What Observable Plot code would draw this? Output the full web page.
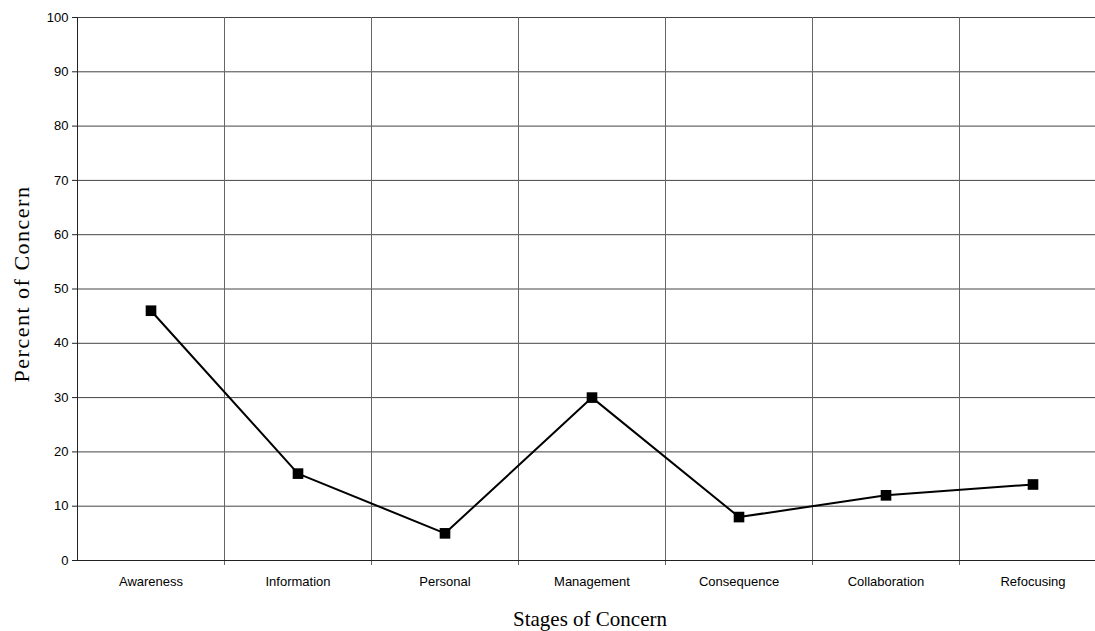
<!DOCTYPE html>
<html>
<head>
<meta charset="utf-8">
<script src="https://cdn.jsdelivr.net/npm/d3@7"></script>
<script src="https://cdn.jsdelivr.net/npm/@observablehq/plot@0.6"></script>
<style>
  html, body { margin: 0; padding: 0; background: #fff; overflow: hidden; }
  #chart { position: relative; width: 1095px; height: 631px; }
  #chart svg { display: block; overflow: hidden; }
  .ytitle { position: absolute; left: 22px; top: 284px; transform: translate(-50%, -50%) rotate(-90deg);
    font-family: "Liberation Serif", "Times New Roman", serif; font-size: 22px; letter-spacing: 1.5px; white-space: nowrap; color: #000; }
  .xtitle { position: absolute; left: 590px; top: 619px; transform: translate(-50%, -50%);
    font-family: "Liberation Serif", "Times New Roman", serif; font-size: 21px; white-space: nowrap; color: #000; }
</style>
</head>
<body>
<div id="chart">
  <div class="ytitle">Percent of Concern</div>
  <div class="xtitle">Stages of Concern</div>
</div>
<script>
const categories = ["Awareness", "Information", "Personal", "Management", "Consequence", "Collaboration", "Refocusing"];
const percent = [46, 16, 5, 30, 8, 12, 14];
const yTicks = [0, 10, 20, 30, 40, 50, 60, 70, 80, 90, 100];

const data = categories.map((c, i) => ({i, c, v: percent[i]}));
const idx = categories.map((c, i) => i);
const boundaries = categories.slice(1).map((c, i) => i + 0.5);

const chart = Plot.plot({
  width: 1095,
  height: 631,
  marginLeft: 77,
  marginRight: 0,
  marginTop: 17,
  marginBottom: 71,
  style: {fontFamily: "'Liberation Sans', Arial, sans-serif", fontSize: "13px", color: "#000", background: "#fff"},
  x: {domain: [-0.5, categories.length - 0.5], range: [77, 1106], axis: null},
  y: {domain: [0, 100], axis: null},
  marks: [
    Plot.ruleY(yTicks.slice(1), {y: d => d, stroke: "#444", strokeWidth: 1}),
    Plot.ruleX(boundaries, {x: d => d, y1: 100, y2: 0, insetBottom: -5, stroke: "#666", strokeWidth: 1}),
    Plot.ruleY([0], {stroke: "#222", strokeWidth: 1}),
    Plot.ruleX([-0.5], {y1: 100, y2: 0, stroke: "#222", strokeWidth: 1}),
    Plot.axisY({ticks: yTicks, tickSize: 5, tickPadding: 4, stroke: "#222", anchor: "left", fontSize: 13, label: null}),
    Plot.axisX({ticks: idx, tickSize: 0, tickPadding: 16, tickFormat: i => categories[i], fontSize: 13, label: null, anchor: "bottom"}),
    Plot.line(data, {x: "i", y: "v", stroke: "#000", strokeWidth: 2}),
    Plot.dot(data, {x: "i", y: "v", symbol: "square", r: 6, fill: "#000", stroke: "none"})
  ]
});
document.getElementById("chart").prepend(chart);
</script>
</body>
</html>
